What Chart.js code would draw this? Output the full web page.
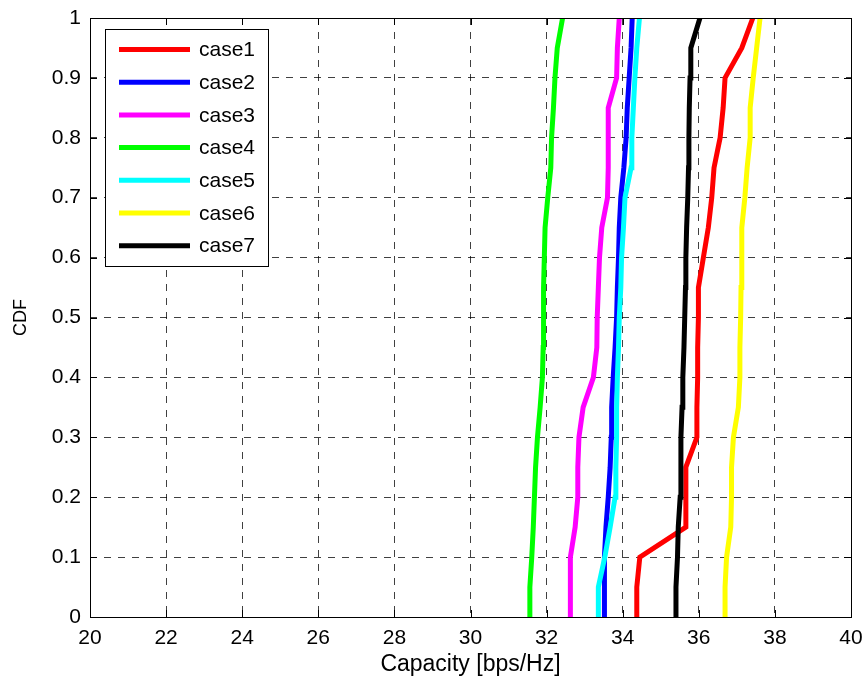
<!DOCTYPE html>
<html>
<head>
<meta charset="utf-8">
<script src="https://cdn.jsdelivr.net/npm/chart.js@4/dist/chart.umd.min.js"></script>
<style>
  body { margin: 0; background: #fff; }
  canvas { display: block; }
</style>
</head>
<body>
<canvas id="cdfChart" width="863" height="678"></canvas>
<script>
// CDF levels (y) shared by all cases
const cdfLevels = [0, 0.05, 0.1, 0.15, 0.2, 0.25, 0.3, 0.35, 0.4, 0.45, 0.5,
  0.55, 0.6, 0.65, 0.7, 0.75, 0.8, 0.85, 0.9, 0.95, 1];

// capacity (x) at each CDF level
const case1 = [34.37, 34.37, 34.45, 35.66, 35.66, 35.66, 35.95, 35.95, 35.97, 35.97, 35.99,
  35.99, 36.12, 36.25, 36.34, 36.40, 36.56, 36.64, 36.69, 37.13, 37.42];
const case2 = [33.51, 33.51, 33.53, 33.56, 33.62, 33.67, 33.70, 33.71, 33.75, 33.80, 33.84,
  33.86, 33.89, 33.91, 33.95, 34.03, 34.09, 34.12, 34.17, 34.22, 34.25];
const case3 = [32.62, 32.62, 32.63, 32.75, 32.82, 32.82, 32.85, 32.96, 33.23, 33.32, 33.33,
  33.36, 33.39, 33.45, 33.60, 33.62, 33.62, 33.62, 33.84, 33.86, 33.91];
const case4 = [31.56, 31.56, 31.61, 31.65, 31.68, 31.71, 31.76, 31.83, 31.89, 31.91, 31.91,
  31.93, 31.94, 31.96, 32.03, 32.11, 32.13, 32.18, 32.22, 32.28, 32.42];
const case5 = [33.36, 33.36, 33.53, 33.67, 33.80, 33.82, 33.84, 33.84, 33.86, 33.89, 33.91,
  33.95, 33.97, 34.02, 34.06, 34.22, 34.24, 34.28, 34.32, 34.37, 34.44];
const case6 = [36.69, 36.69, 36.73, 36.84, 36.86, 36.86, 36.91, 37.04, 37.08, 37.08, 37.10,
  37.11, 37.13, 37.13, 37.21, 37.27, 37.35, 37.35, 37.43, 37.52, 37.61];
const case7 = [35.40, 35.40, 35.44, 35.46, 35.51, 35.53, 35.53, 35.56, 35.58, 35.61, 35.63,
  35.65, 35.66, 35.68, 35.71, 35.73, 35.74, 35.75, 35.77, 35.79, 36.03];

const seriesNames = ["case1", "case2", "case3", "case4", "case5", "case6", "case7"];
const seriesValues = [case1, case2, case3, case4, case5, case6, case7];
const seriesColors = ["#ff0000", "#0000ff", "#ff00ff", "#00ff00", "#00ffff", "#ffff00", "#000000"];

const xTicks = [20, 22, 24, 26, 28, 30, 32, 34, 36, 38, 40];
const yTicks = [0, 0.1, 0.2, 0.3, 0.4, 0.5, 0.6, 0.7, 0.8, 0.9, 1];

const FONT = "'Liberation Sans', Arial, sans-serif";
Chart.defaults.font.family = FONT;
Chart.defaults.color = "#000";

// box, inward tick marks and the legend, MATLAB style
const matlabFrame = {
  id: "matlabFrame",
  afterDatasetsDraw(chart) {
    const { ctx, chartArea: a, scales } = chart;
    ctx.save();
    ctx.strokeStyle = "#000";
    ctx.lineWidth = 1;
    ctx.beginPath();
    xTicks.forEach((v) => {
      const px = Math.round(scales.x.getPixelForValue(v)) + 0.5;
      ctx.moveTo(px, a.bottom); ctx.lineTo(px, a.bottom - 7);
      ctx.moveTo(px, a.top); ctx.lineTo(px, a.top + 7);
    });
    yTicks.forEach((v) => {
      const py = Math.round(scales.y.getPixelForValue(v)) + 0.5;
      ctx.moveTo(a.left, py); ctx.lineTo(a.left + 7, py);
      ctx.moveTo(a.right, py); ctx.lineTo(a.right - 7, py);
    });
    ctx.stroke();
    ctx.strokeRect(Math.round(a.left) + 0.5, Math.round(a.top) + 0.5,
      Math.round(a.right - a.left), Math.round(a.bottom - a.top));

    // legend
    const lx = 105, ly = 29, lw = 163, lh = 237;
    ctx.fillStyle = "#fff";
    ctx.fillRect(lx, ly, lw, lh);
    ctx.strokeRect(lx + 0.5, ly + 0.5, lw, lh);
    ctx.font = "21px " + FONT;
    ctx.textBaseline = "middle";
    chart.data.datasets.forEach((ds, i) => {
      const y = ly + 20.5 + i * 32.7;
      ctx.strokeStyle = ds.borderColor;
      ctx.lineWidth = 5;
      ctx.beginPath();
      ctx.moveTo(119, y);
      ctx.lineTo(190, y);
      ctx.stroke();
      ctx.fillStyle = "#000";
      ctx.fillText(ds.label, 199, y + 1);
    });
    ctx.restore();
  },
};

new Chart(document.getElementById("cdfChart").getContext("2d"), {
  type: "scatter",
  data: {
    datasets: seriesNames.map((name, i) => ({
      label: name,
      data: seriesValues[i].map((x, k) => ({ x: x, y: cdfLevels[k] })),
      borderColor: seriesColors[i],
      backgroundColor: seriesColors[i],
      borderWidth: 5,
      showLine: true,
      pointRadius: 0,
      tension: 0,
      order: seriesNames.length - i,
    })),
  },
  options: {
    responsive: false,
    animation: false,
    layout: { padding: { top: 18, right: 12, left: 0, bottom: 0 } },
    plugins: {
      legend: { display: false },
      tooltip: { enabled: false },
    },
    scales: {
      x: {
        type: "linear",
        min: 20,
        max: 40,
        afterBuildTicks: (s) => { s.ticks = xTicks.map((v) => ({ value: v })); },
        afterFit: (s) => { s.height = 61; s.paddingLeft = 0; s.paddingRight = 0; },
        grid: { color: "rgba(0,0,0,0.75)", lineWidth: 1, drawTicks: false },
        border: { display: false, dash: [7, 7] },
        ticks: { font: { size: 21 }, padding: 9, maxRotation: 0, autoSkip: false, color: "#000" },
        title: {
          display: true,
          text: "Capacity [bps/Hz]",
          font: { size: 23 },
          color: "#000",
          padding: { top: 0, bottom: 0 },
        },
      },
      y: {
        type: "linear",
        min: 0,
        max: 1,
        afterBuildTicks: (s) => { s.ticks = yTicks.map((v) => ({ value: v })); },
        afterFit: (s) => { s.width = 90; s.paddingTop = 0; s.paddingBottom = 0; },
        grid: { color: "rgba(0,0,0,0.75)", lineWidth: 1, drawTicks: false },
        border: { display: false, dash: [7, 7] },
        ticks: {
          font: { size: 21 },
          padding: 9,
          color: "#000",
          callback: (v) => String(Number(v.toFixed(1))),
        },
        title: {
          display: true,
          text: "CDF",
          font: { size: 18 },
          color: "#000",
          padding: { top: 10, bottom: 0 },
        },
      },
    },
  },
  plugins: [matlabFrame],
});
</script>
</body>
</html>
